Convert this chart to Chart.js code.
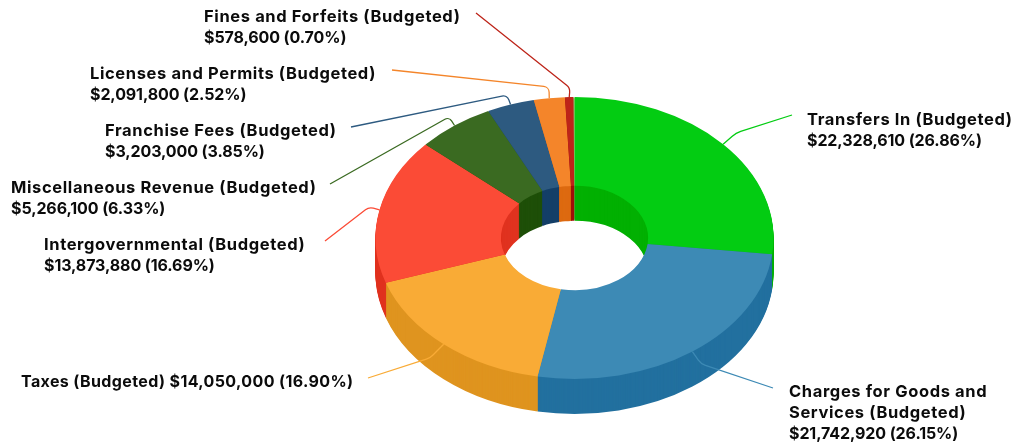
<!DOCTYPE html>
<html>
<head>
<meta charset="utf-8">
<title>Revenue (Budgeted)</title>
<style>
  html, body { margin: 0; padding: 0; background: #fff; overflow: hidden; }
  canvas { display: block; }
</style>
<script src="https://cdn.jsdelivr.net/npm/chart.js@4/dist/chart.umd.min.js"></script>
</head>
<body>
<canvas id="revenueChart" width="1015" height="447"></canvas>
<script>
const categories = ['Transfers In', 'Charges for Goods and Services', 'Taxes', 'Intergovernmental',
    'Miscellaneous Revenue', 'Franchise Fees', 'Licenses and Permits', 'Fines and Forfeits', ''];
const amounts = [22328610, 21742920, 14050000, 13873880, 5266100, 3203000, 2091800, 578600, 60000];
const percents = ['26.86', '26.15', '16.90', '16.69', '6.33', '3.85', '2.52', '0.70', ''];
const topColors = ['#03cc12', '#3d8ab5', '#f9ab36', '#fb4b36', '#3a6a21', '#2d5a80', '#f4852a', '#bd2419', '#9fcf7f'];
const wallColors = ['#02b002', '#22709f', '#df941f', '#e0321f', '#1e4f08', '#143f68', '#dd6a10', '#a00f08', '#7fa860'];

// layout of the pseudo 3D ring
const squash = 141 / 199;
const depth = 35;

// text blocks: x, first baseline
const labelX = [807, 789, 21, 44, 11, 105, 90, 204];
const labelY = [125, 396.5, 386.5, 250, 193, 136, 79, 21.5];
// leader lines: bend point and end point
const leaderBend = [[736, 133], [701, 364], [430, 358], [369, 207], [449, 117], [507, 95], [549, 87], [570, 88]];
const leaderEnd = [[792, 115], [773, 388], [368, 378], [325, 241], [330, 184], [351, 127], [392, 70], [476, 13]];
const leaderRadius = [24, 14, 16, 9, 5, 6, 6, 8];

function money(v) {
    return '$' + v.toLocaleString('en-US');
}

function labelLines(i) {
    const name = categories[i] + ' (Budgeted)';
    const value = money(amounts[i]) + ' (' + percents[i] + '%)';
    if (i === 1) return ['Charges for Goods and', 'Services (Budgeted)', value];
    if (i === 2) return [name + ' ' + value];
    return [name, value];
}

function drawArcs(ctx, arcs, colors, dy) {
    const cx = arcs[0].x, cy = arcs[0].y;
    ctx.save();
    ctx.translate(cx, cy + dy);
    ctx.scale(1, squash);
    ctx.translate(-cx, -cy);
    arcs.forEach((arc, i) => {
        const ghost = Object.create(arc);
        ghost.options = Object.assign({}, arc.options, { backgroundColor: colors[i] });
        ghost.draw(ctx);
    });
    ctx.restore();
}

const ring3d = {
    id: 'ring3d',
    beforeDatasetDraw(chart) {
        const ctx = chart.ctx;
        const arcs = chart.getDatasetMeta(0).data;
        for (let d = depth; d > 0; d--) {
            drawArcs(ctx, arcs, wallColors, d);
        }
        drawArcs(ctx, arcs, topColors, 0);
        return false;
    },
    afterDatasetsDraw(chart) {
        const ctx = chart.ctx;
        const arcs = chart.getDatasetMeta(0).data;
        ctx.save();
        labelX.forEach((x, i) => {
            const arc = arcs[i];
            const mid = (arc.startAngle + arc.endAngle) / 2;
            const sx = arc.x + Math.cos(mid) * arc.outerRadius;
            const sy = arc.y + Math.sin(mid) * arc.outerRadius * squash;
            ctx.beginPath();
            ctx.moveTo(sx, sy);
            ctx.arcTo(leaderBend[i][0], leaderBend[i][1], leaderEnd[i][0], leaderEnd[i][1], leaderRadius[i]);
            ctx.lineTo(leaderEnd[i][0], leaderEnd[i][1]);
            ctx.strokeStyle = topColors[i];
            ctx.lineWidth = 1.3;
            ctx.stroke();

            ctx.fillStyle = '#0b0b0b';
            ctx.textBaseline = 'alphabetic';
            labelLines(i).forEach((line, n) => {
                // names run wider than the figures in this face
                const isValue = line.startsWith('$');
                ctx.font = isValue || i === 2 ? '700 16px Inter' : '700 16.5px Inter';
                ctx.letterSpacing = isValue ? '-0.1px' : (i === 2 ? '0.38px' : '0.62px');
                ctx.fillText(line, x, labelY[i] + n * 21);
            });
        });
        ctx.restore();
    }
};

new Chart(document.getElementById('revenueChart').getContext('2d'), {
    type: 'doughnut',
    data: {
        labels: categories,
        datasets: [{
            data: amounts,
            backgroundColor: topColors,
            borderWidth: 0
        }]
    },
    options: {
        responsive: false,
        animation: false,
        cutout: '37%',
        layout: { padding: { left: 134, right: 0, top: 39, bottom: 10 } },
        plugins: {
            legend: { display: false },
            tooltip: { enabled: false }
        }
    },
    plugins: [ring3d]
});
</script>
</body>
</html>
